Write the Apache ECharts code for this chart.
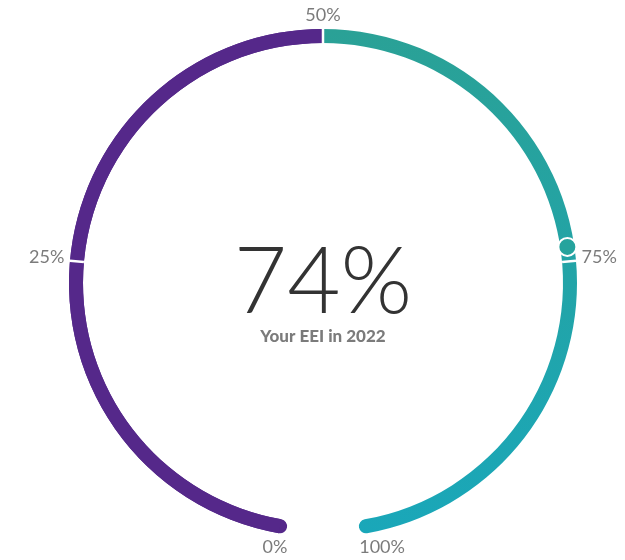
<!DOCTYPE html>
<html>
<head>
<meta charset="utf-8">
<script src="https://cdn.jsdelivr.net/npm/echarts@6/dist/echarts.min.js"></script>
<style>
html,body{margin:0;padding:0;background:#fff;}
#chart{width:625px;height:560px;}
</style>
</head>
<body>
<div id="chart"></div>
<script>
// ---- data ----
const scaleMin = 0;
const scaleMax = 100;
const tickValues = [0, 25, 50, 75, 100];
const splitValue = 50;          // colour change
const scoreValue = 74;          // EEI score
const titleText = 'Your EEI in 2022';

// ---- style ----
const purple = '#55288a';
const tealTop = '#2aa196';
const tealBottom = '#1aa7b9';
const markerColor = '#26a39d';
const labelColor = '#7b7b7b';
const FONT = 'Lato, "Noto Sans", sans-serif';

const CENTER = [323, 283];
const OUTER_R = 254;
const RING_W = 14;
const START = 260, END = -80;
const SPAN = START - END; // 340 degrees
const angleOf = v => START - (v - scaleMin) / (scaleMax - scaleMin) * SPAN;

const chart = echarts.init(document.getElementById('chart'), null, {renderer: 'canvas'});

function baseGauge(extra) {
  return Object.assign({
    type: 'gauge',
    center: CENTER,
    radius: OUTER_R,
    min: scaleMin,
    max: scaleMax,
    startAngle: START,
    endAngle: END,
    splitNumber: tickValues.length - 1,
    axisLine: {show: false, lineStyle: {width: RING_W}},
    axisTick: {show: false},
    splitLine: {show: false, length: 0, distance: 0},
    axisLabel: {show: false},
    pointer: {show: false},
    anchor: {show: false},
    title: {show: false},
    detail: {show: false},
    silent: true,
    animation: false,
    data: [{value: scoreValue}]
  }, extra);
}

const tealGrad = new echarts.graphic.LinearGradient(0, 0, 0, 1, [
  {offset: 0, color: tealTop},
  {offset: 1, color: tealBottom}
]);

const series = [
  // purple with round caps (0% -> 50%)
  baseGauge({
    min: scaleMin, max: splitValue,
    startAngle: angleOf(scaleMin), endAngle: angleOf(splitValue),
    axisLine: {show: true, roundCap: true, lineStyle: {width: RING_W, color: [[1, purple]]}}
  }),
  // teal with round caps (50% -> 100%)
  baseGauge({
    min: splitValue, max: scaleMax,
    startAngle: angleOf(splitValue), endAngle: angleOf(scaleMax),
    axisLine: {show: true, roundCap: true, lineStyle: {width: RING_W, color: [[1, tealGrad]]}}
  }),
  // purple flat (covers the teal cap at 50%)
  baseGauge({
    min: scaleMin, max: splitValue,
    startAngle: angleOf(scaleMin), endAngle: angleOf(splitValue),
    axisLine: {show: true, roundCap: false, lineStyle: {width: RING_W, color: [[1, purple]]}}
  }),
  // white separators at 25 / 50 / 75
  baseGauge({
    min: tickValues[1], max: tickValues[3],
    startAngle: angleOf(tickValues[1]), endAngle: angleOf(tickValues[3]),
    splitNumber: 2,
    splitLine: {show: true, length: RING_W, distance: -RING_W, lineStyle: {color: '#ffffff', width: 2.5}}
  }),
  // labels at 0 / 50 / 100 + centre text
  baseGauge({
    axisLabel: {
      show: true, distance: -23, color: labelColor, fontSize: 18, fontFamily: FONT,
      formatter: v => (v === tickValues[1] || v === tickValues[3]) ? '' :
        (v === scaleMax ? '{r|' + v + '%}' : v + '%'),
      rich: {r: {color: labelColor, fontSize: 18, fontFamily: FONT, padding: [0, 0, 0, 22]}}
    },
    detail: {
      show: true, formatter: '{value}%', offsetCenter: [0, 0],
      fontSize: 92, fontWeight: 300, color: '#333333', fontFamily: FONT
    },
    title: {
      show: true, offsetCenter: [0, 54], fontSize: 17, fontWeight: 900,
      color: labelColor, fontFamily: FONT
    },
    data: [{value: scoreValue, name: titleText}]
  }),
  // labels at 25 / 75
  baseGauge({
    axisLabel: {
      show: true, distance: -41, color: labelColor, fontSize: 18, fontFamily: FONT,
      formatter: v => (v === tickValues[1] || v === tickValues[3]) ? v + '%' : ''
    }
  }),
  // score marker
  {
    type: 'scatter',
    coordinateSystem: 'polar',
    symbol: 'circle',
    symbolSize: 18,
    silent: true,
    animation: false,
    itemStyle: {color: markerColor, borderColor: '#ffffff', borderWidth: 2, opacity: 1},
    data: [[1, scoreValue]],
    z: 10
  }
];

chart.setOption({
  backgroundColor: '#ffffff',
  animation: false,
  polar: {center: CENTER, radius: OUTER_R - RING_W / 2},
  angleAxis: {
    type: 'value', startAngle: START, clockwise: true,
    min: scaleMin, max: scaleMin + (scaleMax - scaleMin) * 360 / SPAN,
    show: false
  },
  radiusAxis: {type: 'value', min: 0, max: 1, show: false},
  series: series
});
</script>
</body>
</html>
